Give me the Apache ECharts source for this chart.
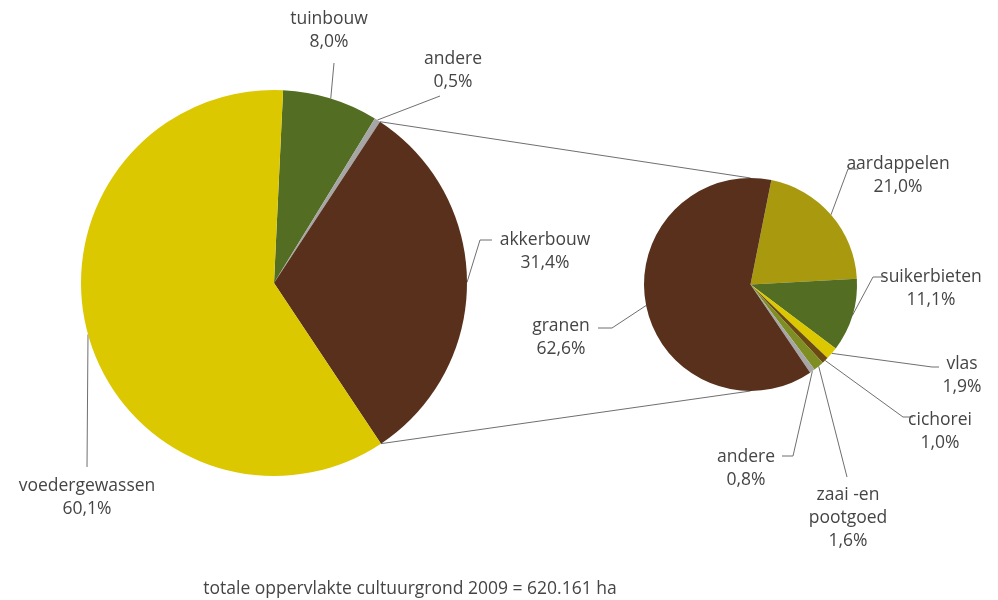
<!DOCTYPE html>
<html>
<head>
<meta charset="utf-8">
<script src="https://cdn.jsdelivr.net/npm/echarts@6/dist/echarts.min.js"></script>
<style>
html,body{margin:0;padding:0;background:#fff;}
#chart{width:998px;height:600px;}
</style>
</head>
<body>
<div id="chart"></div>
<script>
// ---- data ----
const mainCategories = ['tuinbouw', 'andere', 'akkerbouw', 'voedergewassen'];
const mainValues = [8.0, 0.5, 31.4, 60.1];
const subCategories = ['aardappelen', 'suikerbieten', 'vlas', 'cichorei', 'zaai -en\npootgoed', 'andere', 'granen'];
const subValues = [21.0, 11.1, 1.9, 1.0, 1.6, 0.8, 62.6];
const footnote = 'totale oppervlakte cultuurgrond 2009 = 620.161 ha';

// ---- styles / layout ----
const mainColors = ['#536E22', '#A6A6A6', '#58301C', '#DCC800'];
const subColors = ['#A8990E', '#536E22', '#DCC800', '#6A4A12', '#7E8E22', '#A6A6A6', '#58301C'];
const FONT = 'Open Sans';
const FS = 17.5;
const TEXT = '#454545';
const LINE = '#6f6f6f';
const mainCenter = [274, 283], mainR = 193, mainStart = 87.3;
const subCenter = [750.5, 284.5], subR = 106.5, subStart = 78.7;
const splitIndex = 2; // akkerbouw expanded into the second pie

// label placements: [labelCenterX, labelCenterY, elbowX, elbowY, endX, endY]
const mainLabelPos = [
  [329, 31, 334, 63, 334, 63],
  [453, 71, 440, 96, 440, 96],
  [545, 252, 480, 240, 492, 240],
  [87, 498, 87, 467, 87, 467]
];
const subLabelPos = [
  [898, 176, 848, 169, 858, 169],
  [931, 289, 873, 277, 885, 277],
  [962, 376, 932, 367, 939, 367],
  [940, 432, 903, 417, 913, 417],
  [848, 518, 847, 477, 847, 477],
  [746, 469, 793, 456, 782, 456],
  [561, 338, 612, 328, 598, 328]
];

function fmt(v) { return v.toFixed(1).replace('.', ',') + '%'; }

function layoutFor(table) {
  return function (p) {
    const c = table[p.dataIndex];
    const start = p.labelLinePoints ? p.labelLinePoints[0] : [c[2], c[3]];
    return {
      x: c[0], y: c[1], align: 'center', verticalAlign: 'middle',
      labelLinePoints: [start, [c[2], c[3]], [c[4], c[5]]]
    };
  };
}

// connector lines from split slice edges to second pie top / bottom
const total = mainValues.reduce((a, b) => a + b, 0);
let before = 0;
for (let i = 0; i < splitIndex; i++) before += mainValues[i];
const a1 = (90 - mainStart) + before / total * 360;
const a2 = a1 + mainValues[splitIndex] / total * 360;
function edge(center, r, deg) {
  const rad = deg * Math.PI / 180;
  return [center[0] + r * Math.sin(rad), center[1] - r * Math.cos(rad)];
}
const p1 = edge(mainCenter, mainR, a1), p2 = edge(mainCenter, mainR, a2);
const q1 = [subCenter[0], subCenter[1] - subR], q2 = [subCenter[0], subCenter[1] + subR];

const labelStyle = {
  show: true, position: 'outside', color: TEXT, fontFamily: FONT, fontSize: FS,
  lineHeight: 23, align: 'center',
  formatter: p => p.name + '\n' + fmt(p.value)
};

const chart = echarts.init(document.getElementById('chart'), null, { renderer: 'canvas' });
chart.setOption({
  animation: false,
  backgroundColor: '#fff',
  title: {
    text: footnote, left: 405, top: 575, textAlign: 'center',
    textStyle: { fontFamily: FONT, fontSize: FS, fontWeight: 'normal', color: TEXT }
  },
  graphic: [
    { type: 'line', shape: { x1: p1[0], y1: p1[1], x2: q1[0], y2: q1[1] }, style: { stroke: LINE, lineWidth: 1 }, z: 1 },
    { type: 'line', shape: { x1: p2[0], y1: p2[1], x2: q2[0], y2: q2[1] }, style: { stroke: LINE, lineWidth: 1 }, z: 1 }
  ],
  series: [
    {
      type: 'pie', center: mainCenter, radius: mainR, startAngle: mainStart, clockwise: true,
      avoidLabelOverlap: false, z: 3,
      data: mainCategories.map((n, i) => ({ name: n, value: mainValues[i], itemStyle: { color: mainColors[i] } })),
      label: labelStyle,
      labelLine: { show: true, length: 10, length2: 10, lineStyle: { color: LINE, width: 1 } },
      labelLayout: layoutFor(mainLabelPos),
      emphasis: { disabled: true }
    },
    {
      type: 'pie', center: subCenter, radius: subR, startAngle: subStart, clockwise: true,
      avoidLabelOverlap: false, z: 3,
      data: subCategories.map((n, i) => ({ name: n, value: subValues[i], itemStyle: { color: subColors[i] } })),
      label: labelStyle,
      labelLine: { show: true, length: 10, length2: 10, lineStyle: { color: LINE, width: 1 } },
      labelLayout: layoutFor(subLabelPos),
      emphasis: { disabled: true }
    }
  ]
});
</script>
</body>
</html>
